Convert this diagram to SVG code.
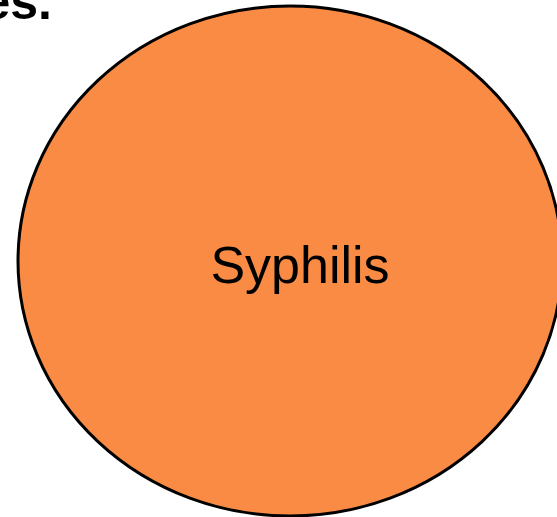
<svg xmlns="http://www.w3.org/2000/svg" width="557" height="517" viewBox="0 0 557 517">
  <style>
    .title { font-family: "Liberation Sans", Arial, sans-serif; font-weight: bold; font-size: 50px; fill: #000; }
    .node-shape { fill: #F98B44; stroke: #000; stroke-width: 3; }
    .node-label { font-family: "Liberation Sans", Arial, sans-serif; font-size: 52px; fill: #000; }
  </style>
  <rect width="557" height="517" fill="#fff"/>
  <text class="title" x="52" y="19" text-anchor="end">es.</text>
  <g id="node-syphilis">
    <ellipse class="node-shape" cx="290" cy="261" rx="272" ry="255"/>
    <text class="node-label" x="300" y="283" text-anchor="middle">Syphilis</text>
  </g>
  <g id="connectors"></g>
</svg>
